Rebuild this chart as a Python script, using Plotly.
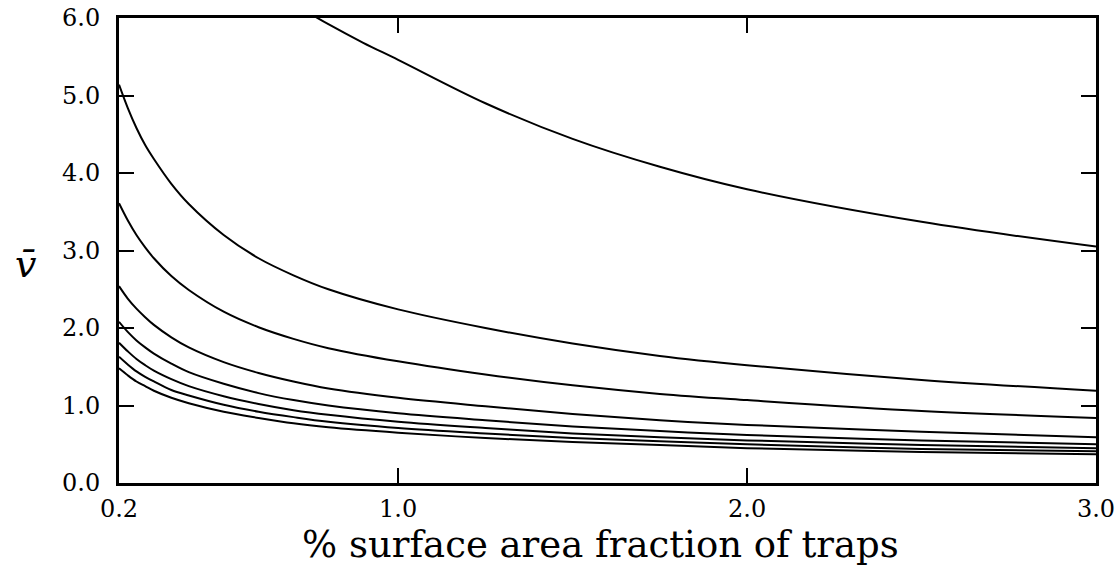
import plotly.graph_objects as go

# x positions where values were read
x_main = [0.2, 0.225, 0.25, 0.275, 0.3, 0.35, 0.4, 0.5, 0.6, 0.7, 0.8, 1.0, 1.25, 1.5, 1.75, 2.0, 2.5, 3.0]
c1 = [5.14, 4.84, 4.58, 4.36, 4.18, 3.86, 3.60, 3.20, 2.90, 2.68, 2.50, 2.24, 2.00, 1.80, 1.64, 1.52, 1.33, 1.19]
c2 = [3.61, 3.39, 3.20, 3.04, 2.90, 2.67, 2.49, 2.21, 2.01, 1.86, 1.74, 1.57, 1.40, 1.26, 1.15, 1.07, 0.93, 0.84]
c3 = [2.54, 2.38, 2.25, 2.14, 2.04, 1.88, 1.75, 1.56, 1.42, 1.31, 1.22, 1.10, 0.99, 0.89, 0.81, 0.75, 0.66, 0.59]
c4 = [2.08, 1.95, 1.84, 1.75, 1.67, 1.54, 1.43, 1.28, 1.16, 1.07, 1.00, 0.90, 0.81, 0.73, 0.67, 0.62, 0.55, 0.50]
c5 = [1.81, 1.70, 1.60, 1.52, 1.45, 1.34, 1.25, 1.12, 1.02, 0.94, 0.88, 0.79, 0.71, 0.64, 0.59, 0.55, 0.49, 0.45]
c6 = [1.63, 1.53, 1.44, 1.37, 1.31, 1.20, 1.13, 1.01, 0.92, 0.85, 0.79, 0.71, 0.64, 0.58, 0.54, 0.50, 0.44, 0.41]
c7 = [1.48, 1.39, 1.31, 1.25, 1.19, 1.10, 1.03, 0.92, 0.84, 0.77, 0.72, 0.65, 0.58, 0.53, 0.49, 0.45, 0.40, 0.37]

x_top = [0.75, 0.8, 0.9, 1.0, 1.25, 1.5, 1.75, 2.0, 2.5, 3.0]
c_top = [6.05, 5.92, 5.68, 5.46, 4.90, 4.44, 4.08, 3.79, 3.37, 3.05]

x_ticks = [0.2, 1.0, 2.0, 3.0]
x_ticklabels = ["0.2", "1.0", "2.0", "3.0"]
y_ticks = [0, 1, 2, 3, 4, 5, 6]
y_ticklabels = ["0.0", "1.0", "2.0", "3.0", "4.0", "5.0", "6.0"]

FONT = "DejaVu Serif"

fig = go.Figure()
fig.add_trace(go.Scatter(x=x_top, y=c_top, mode="lines",
                         line=dict(color="black", width=2, shape="spline"),
                         showlegend=False, hoverinfo="skip"))
for ys in [c1, c2, c3, c4, c5, c6, c7]:
    fig.add_trace(go.Scatter(x=x_main, y=ys, mode="lines",
                             line=dict(color="black", width=2, shape="spline"),
                             showlegend=False, hoverinfo="skip"))

axis_common = dict(showgrid=False, zeroline=False, showline=True, linecolor="black",
                   linewidth=3, mirror="ticks", ticks="inside", ticklen=15,
                   tickwidth=2, tickcolor="black", automargin=False,
                   ticklabeloverflow="allow",
                   tickfont=dict(family=FONT, size=24, color="black"))

fig.update_xaxes(range=[0.2, 3.0], tickvals=x_ticks, ticktext=x_ticklabels,
                 ticklabelstandoff=2, **axis_common)
fig.update_yaxes(range=[0, 6], tickvals=y_ticks, ticktext=y_ticklabels,
                 ticklabelstandoff=11, **axis_common)

fig.update_layout(width=1119, height=566,
                  margin=dict(l=119, r=23, t=18, b=83),
                  plot_bgcolor="white", paper_bgcolor="white",
                  annotations=[
                      dict(text="% surface area fraction of traps", xref="paper", yref="paper",
                           x=0.493, y=-0.133, xanchor="center", yanchor="middle",
                           showarrow=False, font=dict(family=FONT, size=37, color="black")),
                      dict(text="<i>v̄</i>", xref="paper", yref="paper",
                           x=-0.095, y=0.47, xanchor="center", yanchor="middle",
                           showarrow=False, font=dict(family=FONT, size=38, color="black")),
                  ])

fig.write_html("out.html", config={"displayModeBar": False},
               post_script="document.body.style.margin='0';")
